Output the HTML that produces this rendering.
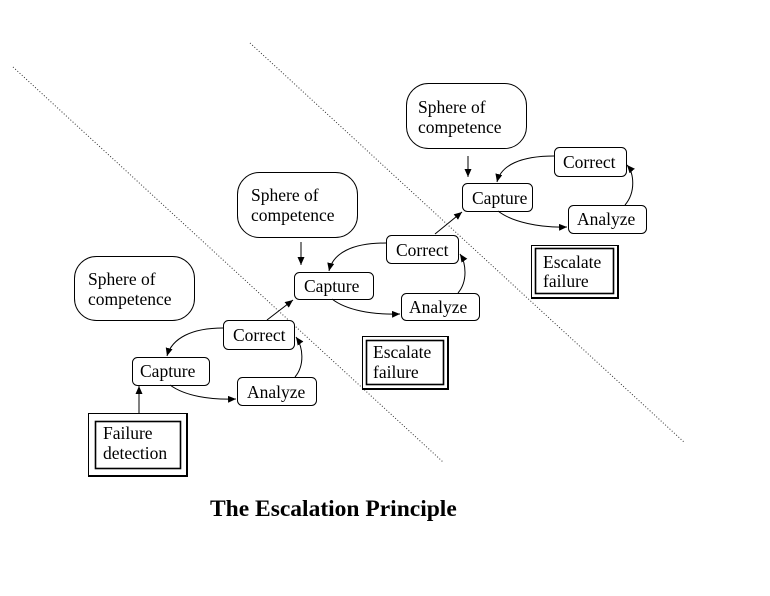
<!DOCTYPE html>
<html><head><meta charset="utf-8"><style>
html,body{margin:0;padding:0;background:#fff;}
svg{display:block;}
text{font-family:"Liberation Serif","Times New Roman",serif;font-size:17.5px;fill:#000;}
.t{font-size:23.5px;font-weight:bold;}
</style></head><body>
<svg width="770" height="596" viewBox="0 0 770 596" xmlns="http://www.w3.org/2000/svg">
<defs>
<marker id="a" markerUnits="userSpaceOnUse" markerWidth="9" markerHeight="8" refX="8" refY="3.5" orient="auto">
<path d="M0,0 L8,3.5 L0,7 z" fill="#000"/>
</marker>
</defs>
<rect width="770" height="596" fill="#fff"/>
<!-- dotted diagonals -->
<line x1="13" y1="67" x2="443" y2="462" stroke="#333" stroke-width="1" stroke-dasharray="1,2"/>
<line x1="250" y1="43" x2="685" y2="443" stroke="#333" stroke-width="1" stroke-dasharray="1,2"/>

<g fill="#fff" stroke="#000" stroke-width="1">
<!-- spheres -->
<rect x="74.5" y="256.5" width="120" height="64" rx="22" ry="22"/>
<rect x="237.5" y="172.5" width="120" height="65" rx="22" ry="22"/>
<rect x="406.5" y="83.5" width="120" height="65" rx="22" ry="22"/>
<!-- set 1 -->
<rect x="132.5" y="357.5" width="77" height="28" rx="5"/>
<rect x="223.5" y="320.5" width="71" height="29" rx="5"/>
<rect x="237.5" y="377.5" width="79" height="28" rx="5"/>
<!-- set 2 -->
<rect x="294.5" y="272.5" width="79" height="27" rx="5"/>
<rect x="386.5" y="235.5" width="72" height="28" rx="5"/>
<rect x="401.5" y="293.5" width="78" height="27" rx="5"/>
<!-- set 3 -->
<rect x="462.5" y="183.5" width="70" height="28" rx="5"/>
<rect x="554.5" y="147.5" width="72" height="29" rx="5"/>
<rect x="568.5" y="205.5" width="78" height="28" rx="5"/>
</g>

<!-- double boxes -->
<g fill="#fff" stroke="#000">
<rect x="88.5" y="413.5" width="98" height="62" stroke-width="1"/>
<path d="M187,413 L187,476 L88,476" fill="none" stroke-width="2"/>
<rect x="95.5" y="421.5" width="85" height="47" stroke-width="1.6"/>

<rect x="362.5" y="336.5" width="85" height="52" stroke-width="1"/>
<path d="M448,336 L448,389 L362,389" fill="none" stroke-width="2"/>
<rect x="366.5" y="340.5" width="77" height="44" stroke-width="1.6"/>

<rect x="531.5" y="245.5" width="86" height="52" stroke-width="1"/>
<path d="M618,245 L618,298 L531,298" fill="none" stroke-width="2"/>
<rect x="535.5" y="248.5" width="78" height="45" stroke-width="1.6"/>
</g>

<!-- connectors -->
<g fill="none" stroke="#000" stroke-width="1" marker-end="url(#a)">
<!-- set 1 -->
<path d="M139,413 L139,386"/>
<path d="M223,328 C192,328 172,338 167,356"/>
<path d="M170,385 C185,396 210,400 236,399"/>
<path d="M295,377 C305,365 303,347 296,337"/>
<path d="M267,320 L293,300"/>
<!-- set 2 -->
<path d="M301,242 L301,265"/>
<path d="M386,243 C352,243 333,253 329,271"/>
<path d="M332,299 C346,310 372,315 400,314"/>
<path d="M458,293 C468,281 466,263 460,254"/>
<path d="M435,234 L462,212"/>
<!-- set 3 -->
<path d="M468,156 L468,177"/>
<path d="M554,156 C521,156 501,165 497,182"/>
<path d="M498,211 C512,222 540,228 567,227"/>
<path d="M625,205 C636,192 634,173 627,165"/>
</g>

<!-- labels -->
<text x="88" y="285">Sphere of</text>
<text x="88" y="305">competence</text>
<text x="251" y="201">Sphere of</text>
<text x="251" y="221">competence</text>
<text x="418" y="113">Sphere of</text>
<text x="418" y="133">competence</text>

<text x="140" y="377">Capture</text>
<text x="233" y="341">Correct</text>
<text x="247" y="398">Analyze</text>

<text x="304" y="292">Capture</text>
<text x="396" y="256">Correct</text>
<text x="409" y="313">Analyze</text>

<text x="472" y="204">Capture</text>
<text x="563" y="168">Correct</text>
<text x="577" y="225">Analyze</text>

<text x="103" y="439">Failure</text>
<text x="103" y="459">detection</text>
<text x="373" y="358">Escalate</text>
<text x="373" y="378">failure</text>
<text x="543" y="268">Escalate</text>
<text x="543" y="287">failure</text>

<text class="t" x="210" y="516">The Escalation Principle</text>
</svg>
</body></html>
